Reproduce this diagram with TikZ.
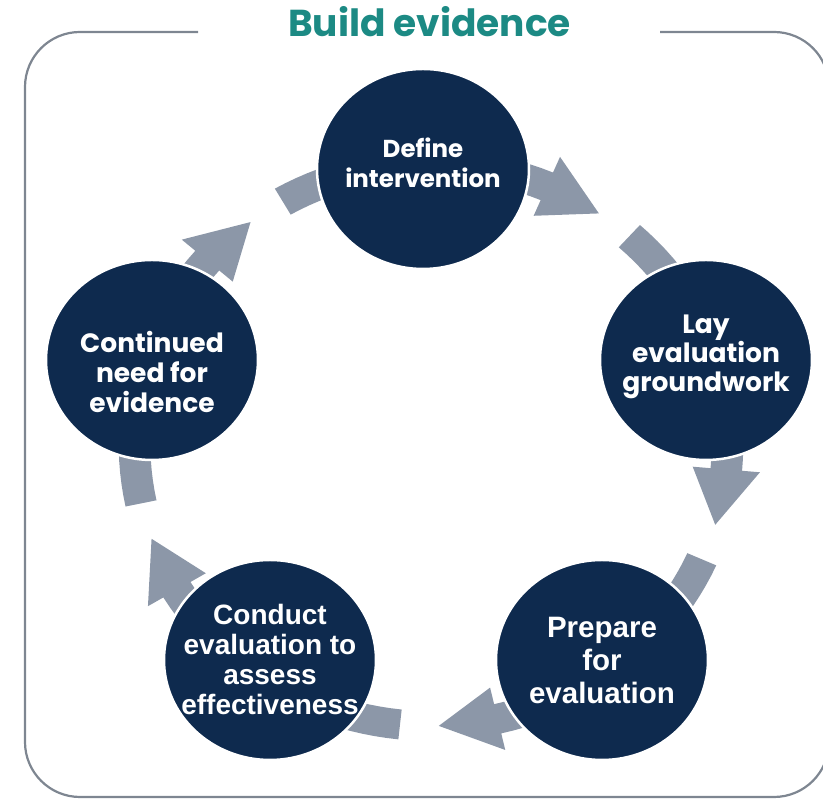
\documentclass[tikz,border=0pt]{standalone}
\usepackage{fontspec}
\newfontfamily\popfont{Poppins}
\newfontfamily\libfont{Liberation Sans}
\usetikzlibrary{shapes.geometric}
\definecolor{navy}{HTML}{0E2A4E}
\definecolor{arrowgray}{HTML}{8C97A8}
\definecolor{titleteal}{HTML}{1C8A84}
\definecolor{framegray}{HTML}{7E8691}
\begin{document}
\begin{tikzpicture}[x=1pt,y=1pt,
  bubble/.style={ellipse, fill=navy, draw=white, line width=2.5pt,
    minimum width=212pt, minimum height=200pt, inner sep=0pt},
  btext/.style={text=white, align=center, inner sep=0pt},
  cyclearrow/.style={fill=arrowgray}]
\useasboundingbox (0,0) rectangle (823,799);
% frame with gap for the title
\draw[framegray, line width=2.2pt, rounded corners=55pt]
  (198,767) -- (25,767) -- (25,2) -- (829,2) -- (829,767) -- (660,767);
\node[font=\popfont\bfseries\fontsize{37.5}{42}\selectfont, text=titleteal,
  anchor=base, inner sep=0pt] (title) at (429.5,762) {Build evidence};
% curved block arrows passing behind each circle
\begin{scope}[shift={(431,354)}, xscale=1.055]
\foreach \ang in {90,18,-54,-126,162}{
  \pgfmathsetmacro\aa{\ang+30}
  \pgfmathsetmacro\ab{\ang-23}
  \pgfmathsetmacro\ac{\ang-34.5}
  \fill[cyclearrow] (\aa:296) -- plot[domain=\aa:\ab, samples=25] (\x:296)
    -- (\ab:313) -- (\ac:281) -- (\ab:249) -- (\ab:266)
    -- plot[domain=\ab:\aa, samples=25] (\x:266) -- cycle;
}
\end{scope}
% circles
\node[bubble] (def) at (423,630) {};
\node[bubble] (lay) at (706,439) {};
\node[bubble] (prep) at (602,139) {};
\node[bubble] (cond) at (270,139) {};
\node[bubble] (cont) at (152,439) {};
% texts
\node[btext, font=\popfont\bfseries\fontsize{24.5}{30}\selectfont] (deft) at (423,636) {Define\\intervention};
\node[btext, font=\popfont\bfseries\fontsize{26.5}{29}\selectfont] (layt) at (706,442) {Lay\\evaluation\\groundwork};
\node[btext, font=\popfont\bfseries\fontsize{26.5}{30}\selectfont] (contt) at (152,427) {Continued\\need for\\evidence};
\node[btext, font=\libfont\bfseries\fontsize{29.5}{33}\selectfont] (prept) at (602,138) {Prepare\\for\\evaluation};
\node[btext, font=\libfont\bfseries\fontsize{28}{30}\selectfont] (condt) at (270,139) {Conduct\\evaluation to\\assess\\effectiveness};
\end{tikzpicture}
\end{document}
